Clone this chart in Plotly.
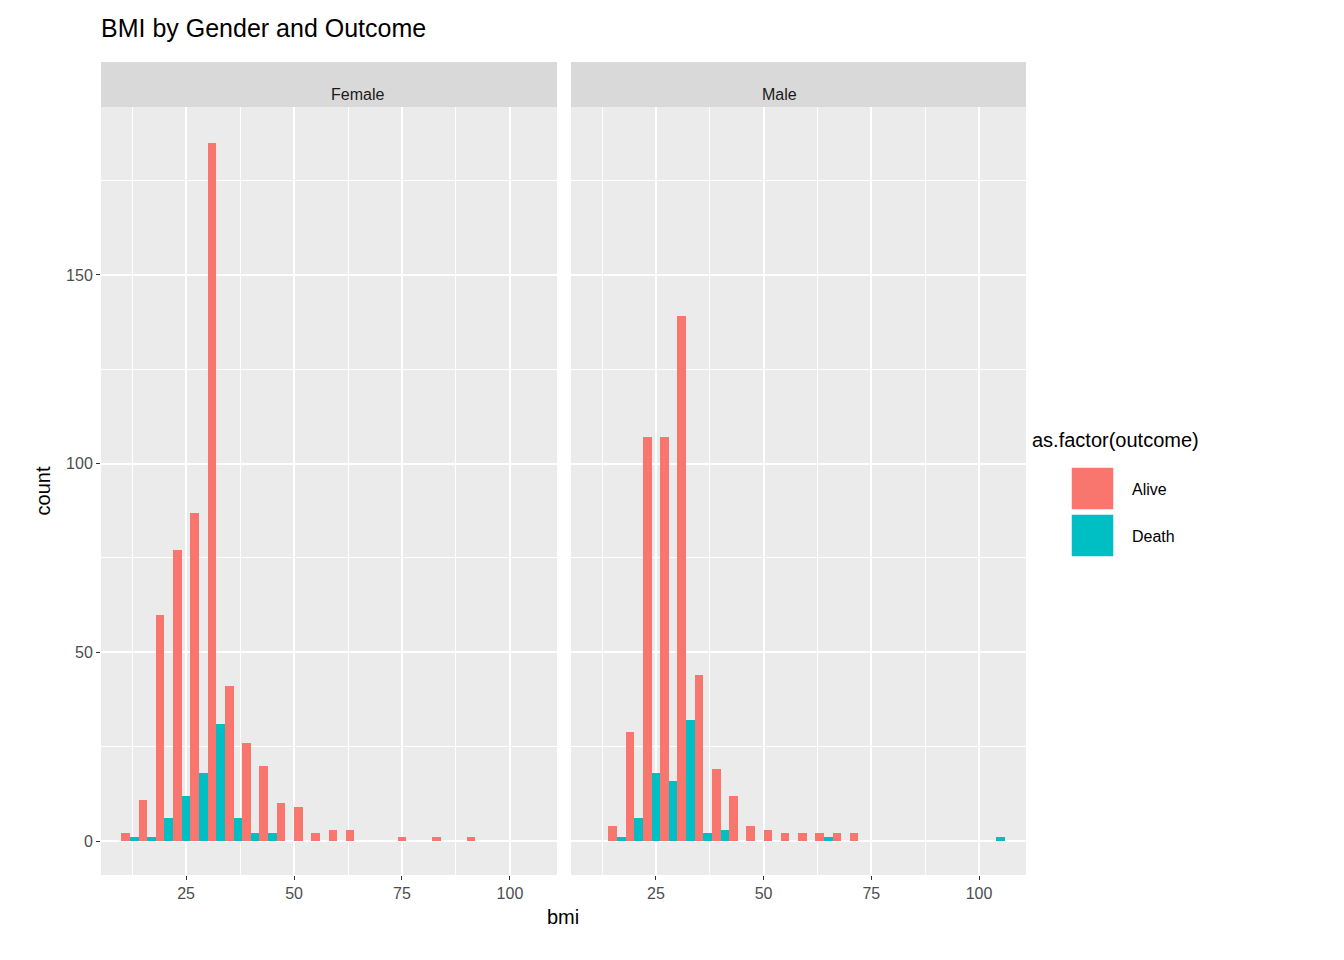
import plotly.graph_objects as go
from plotly.subplots import make_subplots

# bin centres (binwidth ~4)
bins = [12 + 4 * k for k in range(24)]

female_alive = [2, 11, 60, 77, 87, 185, 41, 26, 20, 10, 9, 2, 3, 3, 0, 0, 1, 0, 1, 0, 1, 0, 0, 0]
female_death = [1, 1, 6, 12, 18, 31, 6, 2, 2, 0, 0, 0, 0, 0, 0, 0, 0, 0, 0, 0, 0, 0, 0, 0]
male_alive = [0, 4, 29, 107, 107, 139, 44, 19, 12, 4, 3, 2, 2, 2, 2, 2, 0, 0, 0, 0, 0, 0, 0, 0]
male_death = [0, 1, 6, 18, 16, 32, 2, 3, 0, 0, 0, 0, 0, 1, 0, 0, 0, 0, 0, 0, 0, 0, 0, 1]

RED, TEAL = "#F8766D", "#00BFC4"
W = 4.0

fig = make_subplots(rows=1, cols=2, shared_yaxes=True, horizontal_spacing=0.015)

def add(alive, death, col):
    xa = [b - W / 4 for b, v in zip(bins, alive) if v > 0]
    ya = [v for v in alive if v > 0]
    xd = [b + W / 4 for b, v in zip(bins, death) if v > 0]
    yd = [v for v in death if v > 0]
    fig.add_trace(go.Bar(x=xa, y=ya, width=W / 2, marker_color=RED, marker_line_width=0,
                         name="Alive", showlegend=False), row=1, col=col)
    fig.add_trace(go.Bar(x=xd, y=yd, width=W / 2, marker_color=TEAL, marker_line_width=0,
                         name="Death", showlegend=False), row=1, col=col)

add(female_alive, female_death, 1)
add(male_alive, male_death, 2)

PW, PH = 925, 813
def px(x):
    return (x - 101) / PW
def py(y):
    return (875 - y) / PH

xd1 = [0, 456 / PW]
xd2 = [470 / PW, 1]
ytop = 768 / PH
axis_common = dict(
    range=[5.3, 110.9], tickvals=[25, 50, 75, 100], showgrid=True, gridcolor="white", gridwidth=1.6,
    minor=dict(tickvals=[12.5, 37.5, 62.5, 87.5], showgrid=True, gridcolor="white", gridwidth=0.8),
    ticks="outside", ticklen=4, tickcolor="#333333", zeroline=False, automargin=False,
    tickfont=dict(size=16, color="#4D4D4D"),
)
fig.update_xaxes(**axis_common)
fig.update_xaxes(domain=xd1, row=1, col=1)
fig.update_xaxes(domain=xd2, row=1, col=2)
fig.update_yaxes(
    range=[-9, 194.5], domain=[0, ytop], tickvals=[0, 50, 100, 150], showgrid=True, gridcolor="white",
    gridwidth=1.6, minor=dict(tickvals=[25, 75, 125, 175], showgrid=True, gridcolor="white", gridwidth=0.8),
    zeroline=False, automargin=False, tickfont=dict(size=16, color="#4D4D4D"),
)
fig.update_yaxes(ticks="outside", ticklen=4, tickcolor="#333333",
                 title=dict(text="count", font=dict(size=20, color="black"), standoff=10), row=1, col=1)
fig.update_yaxes(ticks="", showticklabels=False, row=1, col=2)

for dom, label in [(xd1, "Female"), (xd2, "Male")]:
    fig.add_shape(type="rect", xref="paper", yref="paper", x0=dom[0], x1=dom[1], y0=ytop, y1=1,
                  fillcolor="#D9D9D9", line_width=0, layer="below")
    fig.add_annotation(text=label, xref="paper", yref="paper", x=(dom[0] + dom[1]) / 2,
                       y=(ytop + 1) / 2, showarrow=False, font=dict(size=16, color="#1A1A1A"))

fig.add_annotation(text="bmi", xref="paper", yref="paper", x=px(563), y=py(930), showarrow=False,
                   font=dict(size=20, color="black"))

# legend drawn by hand (ggplot style keys)
fig.add_annotation(text="as.factor(outcome)", xref="paper", yref="paper", x=px(1030), y=py(440),
                   xanchor="left", showarrow=False, font=dict(size=20, color="black"))
for i, (lab, c) in enumerate([("Alive", RED), ("Death", TEAL)]):
    y0 = 467 + 47 * i
    fig.add_shape(type="rect", xref="paper", yref="paper", x0=px(1071), x1=px(1114),
                  y0=py(y0 + 43), y1=py(y0), fillcolor=c, line=dict(color="white", width=1.5))
    fig.add_annotation(text=lab, xref="paper", yref="paper", x=px(1130), y=py(y0 + 22),
                       xanchor="left", showarrow=False, font=dict(size=16, color="black"))

fig.update_layout(
    width=1344, height=960,
    margin=dict(l=93, r=326, t=54, b=93, pad=0),
    barmode="overlay", bargap=0,
    plot_bgcolor="#EBEBEB", paper_bgcolor="white",
    font=dict(family="Liberation Sans, Arial, sans-serif"),
    title=dict(text="BMI by Gender and Outcome", x=93 / 1344, xanchor="left", y=1 - 20 / 960,
               yanchor="middle", font=dict(size=25, color="black")),
)

fig.write_html("out.html")
